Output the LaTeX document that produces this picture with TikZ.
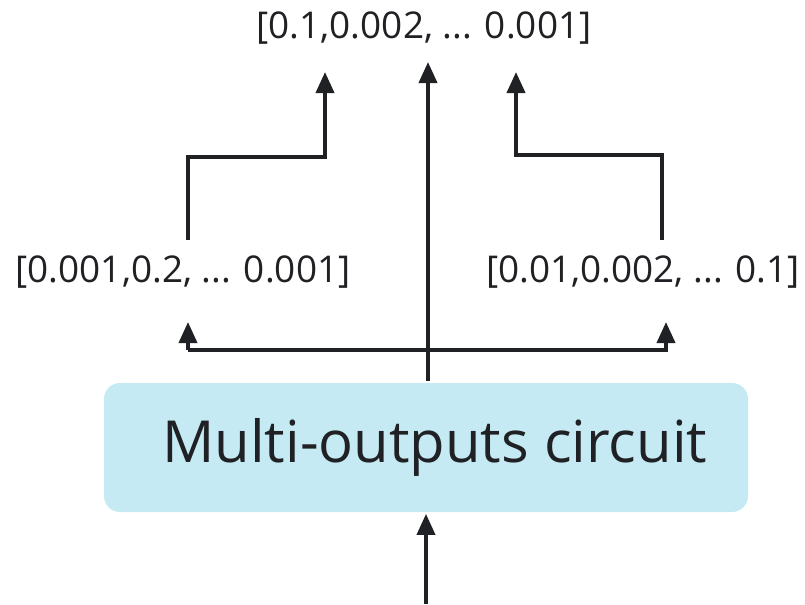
\documentclass[tikz,border=0pt]{standalone}
\usepackage{fontspec}
\setmainfont{Open Sans}
\usetikzlibrary{arrows.meta}

\definecolor{ink}{HTML}{202124}
\definecolor{circuitblue}{HTML}{C5EAF4}

\begin{document}
\begin{tikzpicture}[circuit/.style={rectangle, rounded corners=0.32cm, fill=circuitblue,
                                    minimum width=12.88cm, minimum height=2.58cm,
                                    font=\fontsize{33pt}{40}\selectfont},
                    vector/.style={font=\fontsize{21pt}{26}\selectfont},
                    >={Triangle[length=0.42cm, width=0.36cm]},
                    line width=0.075cm, draw=ink, text=ink]
  \useasboundingbox (0, 0) rectangle (16.1, 12.08);

  % Circuit and its outputs.
  \node at (8.52, 3.13) [circuit, name=Circuit] {\hspace*{0.35cm}Multi-outputs circuit};
  \node at (3.66, 6.64) [vector, name=LeftOutput] {[0.001,0.2, ... 0.001]};
  \node at (12.86, 6.64) [vector, name=RightOutput] {[0.01,0.002, ... 0.1]};
  \node at (8.48, 11.52) [vector, name=TopOutput] {[0.1,0.002, ... 0.001]};

  % Ends of the wires.
  \coordinate (input) at (8.52, 0);
  \coordinate (branch) at (8.56, 5.08);
  \coordinate (leftTip) at (3.76, 5.64);
  \coordinate (rightTip) at (13.32, 5.64);
  \coordinate (topTip) at (8.56, 10.84);
  \coordinate (leftFrom) at (3.76, 7.28);
  \coordinate (rightFrom) at (13.24, 7.28);
  \coordinate (leftInto) at (6.5, 10.64);
  \coordinate (rightInto) at (10.32, 10.64);

  % Input wire.
  \draw [->] (input) to (Circuit.south);

  % Outputs of the circuit.
  \draw [->] (Circuit.north -| topTip) to (topTip);
  \draw [->] (branch -| leftTip) -- (branch -| rightTip) -- (rightTip);
  \draw [->] (branch -| leftTip) -- (leftTip);

  % Side outputs merged into the top one.
  \draw [->] (leftFrom) |- (6.5, 8.94) -- (leftInto);
  \draw [->] (rightFrom) |- (10.32, 8.98) -- (rightInto);
\end{tikzpicture}
\end{document}
